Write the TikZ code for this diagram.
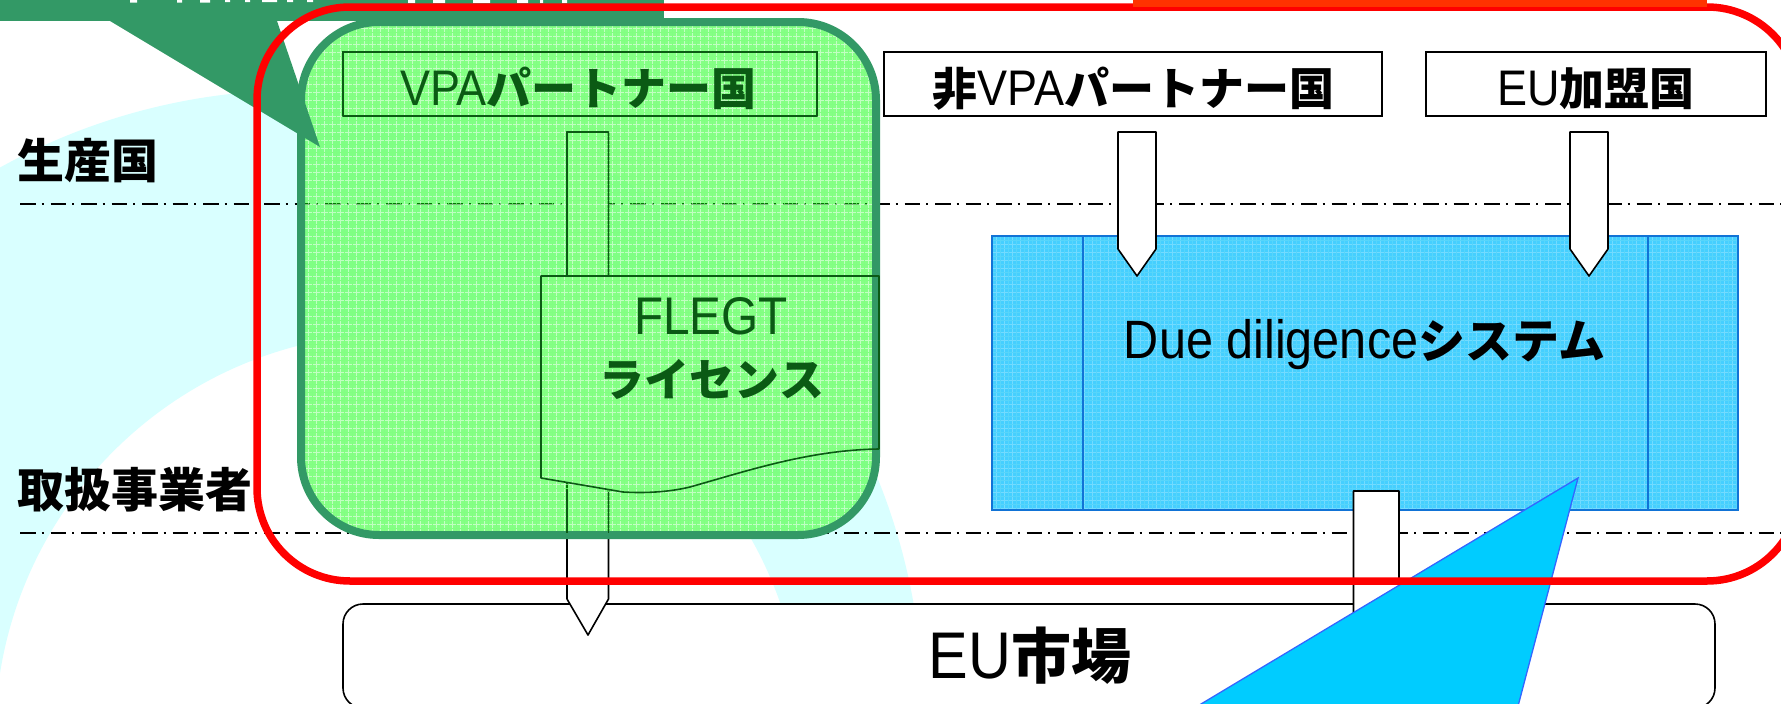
\documentclass[tikz,border=0pt]{standalone}
\usepackage{fontspec}
\setmainfont{Liberation Sans}
\newfontfamily\cjfont{Noto Sans CJK JP}
\newcommand{\J}[1]{{\cjfont\bfseries #1}}
\newcommand{\La}[2]{{\fontsize{#1}{#1}\selectfont\scalebox{0.9}[1]{#2}}}
\newcommand{\Fs}[1]{\fontsize{#1}{#1}\selectfont}
\definecolor{bgcyan}{HTML}{D9FFFF}
\definecolor{seagreen}{HTML}{339966}
\definecolor{meshgreen}{HTML}{00FF00}
\definecolor{meshink}{HTML}{0B5A14}
\definecolor{meshblue}{HTML}{45CFFF}
\definecolor{blueedge}{HTML}{1173D6}
\definecolor{calloutblue}{HTML}{00CCFF}
\definecolor{calloutedge}{HTML}{3366FF}
\definecolor{orangered}{HTML}{FF3300}
\tikzset{
  x=1pt,y=-1pt,
  label/.style={inner sep=0pt,anchor=base},
  boxed/.style={draw=black,fill=white,line width=1.6pt},
  blockarrow/.style={draw=black,fill=white,line width=1.6pt,line join=round},
  meshline/.style={draw=meshink,line width=1.6pt,line join=round},
  divider/.style={draw=black,line width=1.7pt,dash pattern=on 15.5pt off 6pt on 2pt off 7pt},
}
\begin{document}
\begin{tikzpicture}
\useasboundingbox (0,0) rectangle (1781,704);
\clip (0,0) rectangle (1781,704);
\fill[white] (0,0) rectangle (1781,704);
% background band
\fill[bgcyan,even odd rule] (301,712) circle[radius=622pt] (399,737) circle[radius=404pt];
% dividers
\coordinate (d1a) at (20,204); \coordinate (d1b) at (1781,204);
\coordinate (d2a) at (20,533); \coordinate (d2b) at (1781,533);
% green panel base hides most of the band
\begin{scope}
\clip[rounded corners=78pt] (301,22) rectangle (876,535);
\fill[white,opacity=.75] (290,10) rectangle (890,545);
\end{scope}
\draw[divider] (d1a) -- (d1b);
\draw[divider] (d2a) -- (d2b);
% boxes
\node[boxed,minimum width=474pt,minimum height=64pt,inner sep=0pt] (vpa) at (580,84) {};
\node[boxed,minimum width=498pt,minimum height=64pt,inner sep=0pt] (nonvpa) at (1133,84) {};
\node[boxed,minimum width=340pt,minimum height=64pt,inner sep=0pt] (eumem) at (1596,84) {};
\node[boxed,rounded corners=20pt,minimum width=1372pt,minimum height=104pt,inner sep=0pt] (market) at (1029,656) {};
% block arrow 1 and flap
\draw[blockarrow] (567,132) -- (608.5,132) -- (608.5,599) -- (588,635) -- (567,599) -- cycle;
\fill[white] (541,276) -- (879,276) -- (879,449) .. controls (810,450) and (750,470) .. (690,487) .. controls (665,493) and (640,493) .. (623,492) -- (541,478) -- cycle;
% green mesh
\begin{scope}
\clip[rounded corners=78pt] (301,22) rectangle (876,535);
\fill[meshgreen,opacity=.48] (290,10) rectangle (890,545);
\draw[white,opacity=.5,line width=1pt] (288,8) grid[step=4pt] (892,548);
\draw[meshgreen!80!white,opacity=.45,line width=1pt] (288,8) grid[step=8pt] (892,548);
\end{scope}
\draw[seagreen,line width=8pt,rounded corners=78pt] (301,22) rectangle (876,535);
% outlines and texts seen through the mesh
\draw[meshline] (343,52) rectangle (817,116);
\draw[meshline] (567,276) -- (567,132) -- (608.5,132) -- (608.5,276);
\draw[meshline] (567,490) -- (567,533);
\draw[meshline] (608.5,492) -- (608.5,533);
\draw[meshline] (879,449) -- (879,276) -- (541,276) -- (541,478) -- (623,492) .. controls (640,493) and (665,493) .. (690,487) .. controls (750,470) and (810,450) .. (879,449);
\node[label,text=meshink] (vpat) at (578.5,105) {\La{50}{VPA}\Fs{45}\J{パートナー国}};
\node[label,text=meshink] (flegt) at (711,334) {\La{53}{FLEGT}};
\node[label,text=meshink] (lic) at (712,396) {\Fs{45}\J{ライセンス}};
% banner and pointer
\fill[seagreen] (0,0) rectangle (664,21);
\fill[seagreen] (110,21) -- (320,147) -- (277,21) -- cycle;
\fill[white] (130,0) rectangle (137,2.5) (177,0) rectangle (182,2.5) (200,0) rectangle (210,2.5) (225,0) rectangle (230,2) (245,0) rectangle (250,2) (262,0) rectangle (277,2) (287,0) rectangle (293,2) (307,0) rectangle (313,2) (408,0) rectangle (415,3) (433,0) rectangle (445,3) (473,0) rectangle (490,3) (517,0) rectangle (528,3) (540,0) rectangle (543,3) (562,0) rectangle (567,3);
% blue system box
\coordinate (bl) at (992,236); \coordinate (br) at (1738,510);
\begin{scope}
\clip (bl) rectangle (br);
\fill[meshblue] (bl) rectangle (br);
\draw[white,opacity=.25,line width=.9pt] (988,232) grid[step=4pt] (1742,514);
\draw[blueedge!40!cyan,opacity=.25,line width=1pt] (988,232) grid[step=8pt] (1742,514);
\end{scope}
\draw[blueedge,line width=1.5pt] (bl) rectangle (br);
\draw[blueedge,line width=1.5pt] (1083,236) -- (1083,510);
\draw[blueedge,line width=1.5pt] (1648,236) -- (1648,510);
\draw[blockarrow] (1118,132) -- (1156,132) -- (1156,249) -- (1137,276) -- (1118,249) -- cycle;
\draw[blockarrow] (1570,132) -- (1608,132) -- (1608,249) -- (1589,276) -- (1570,249) -- cycle;
\draw[blockarrow] (1353.5,491) -- (1399,491) -- (1399,640) -- (1376,670) -- (1353.5,640) -- cycle;
% callout
\draw[calloutedge,fill=calloutblue,line width=1.3pt] (1578,478) -- (1517,710) -- (1191,710) -- cycle;
% red frame
\draw[red,line width=7.5pt,rounded corners=93pt] (257,7) rectangle (1800,581);
\fill[orangered] (1133,0) rectangle (1707,7);
% labels
\node[label,anchor=base west] (seisan) at (17,178) {\Fs{47}\J{生産国}};
\node[label,anchor=base west] (toriatsu) at (17,507) {\Fs{47}\J{取扱事業者}};
\node[label] (nonvpat) at (1133.5,105) {\Fs{45}\J{非}\La{50}{VPA}\Fs{45}\J{パートナー国}};
\node[label] (eumemt) at (1596,105) {\La{50}{EU}\Fs{45}\J{加盟国}};
\node[label] (due) at (1364.5,358) {\La{54}{Due diligence}\Fs{47}\J{システム}};
\node[label] (markett) at (1030,678) {\La{66}{EU}\Fs{60}\J{市場}};
\end{tikzpicture}
\end{document}
